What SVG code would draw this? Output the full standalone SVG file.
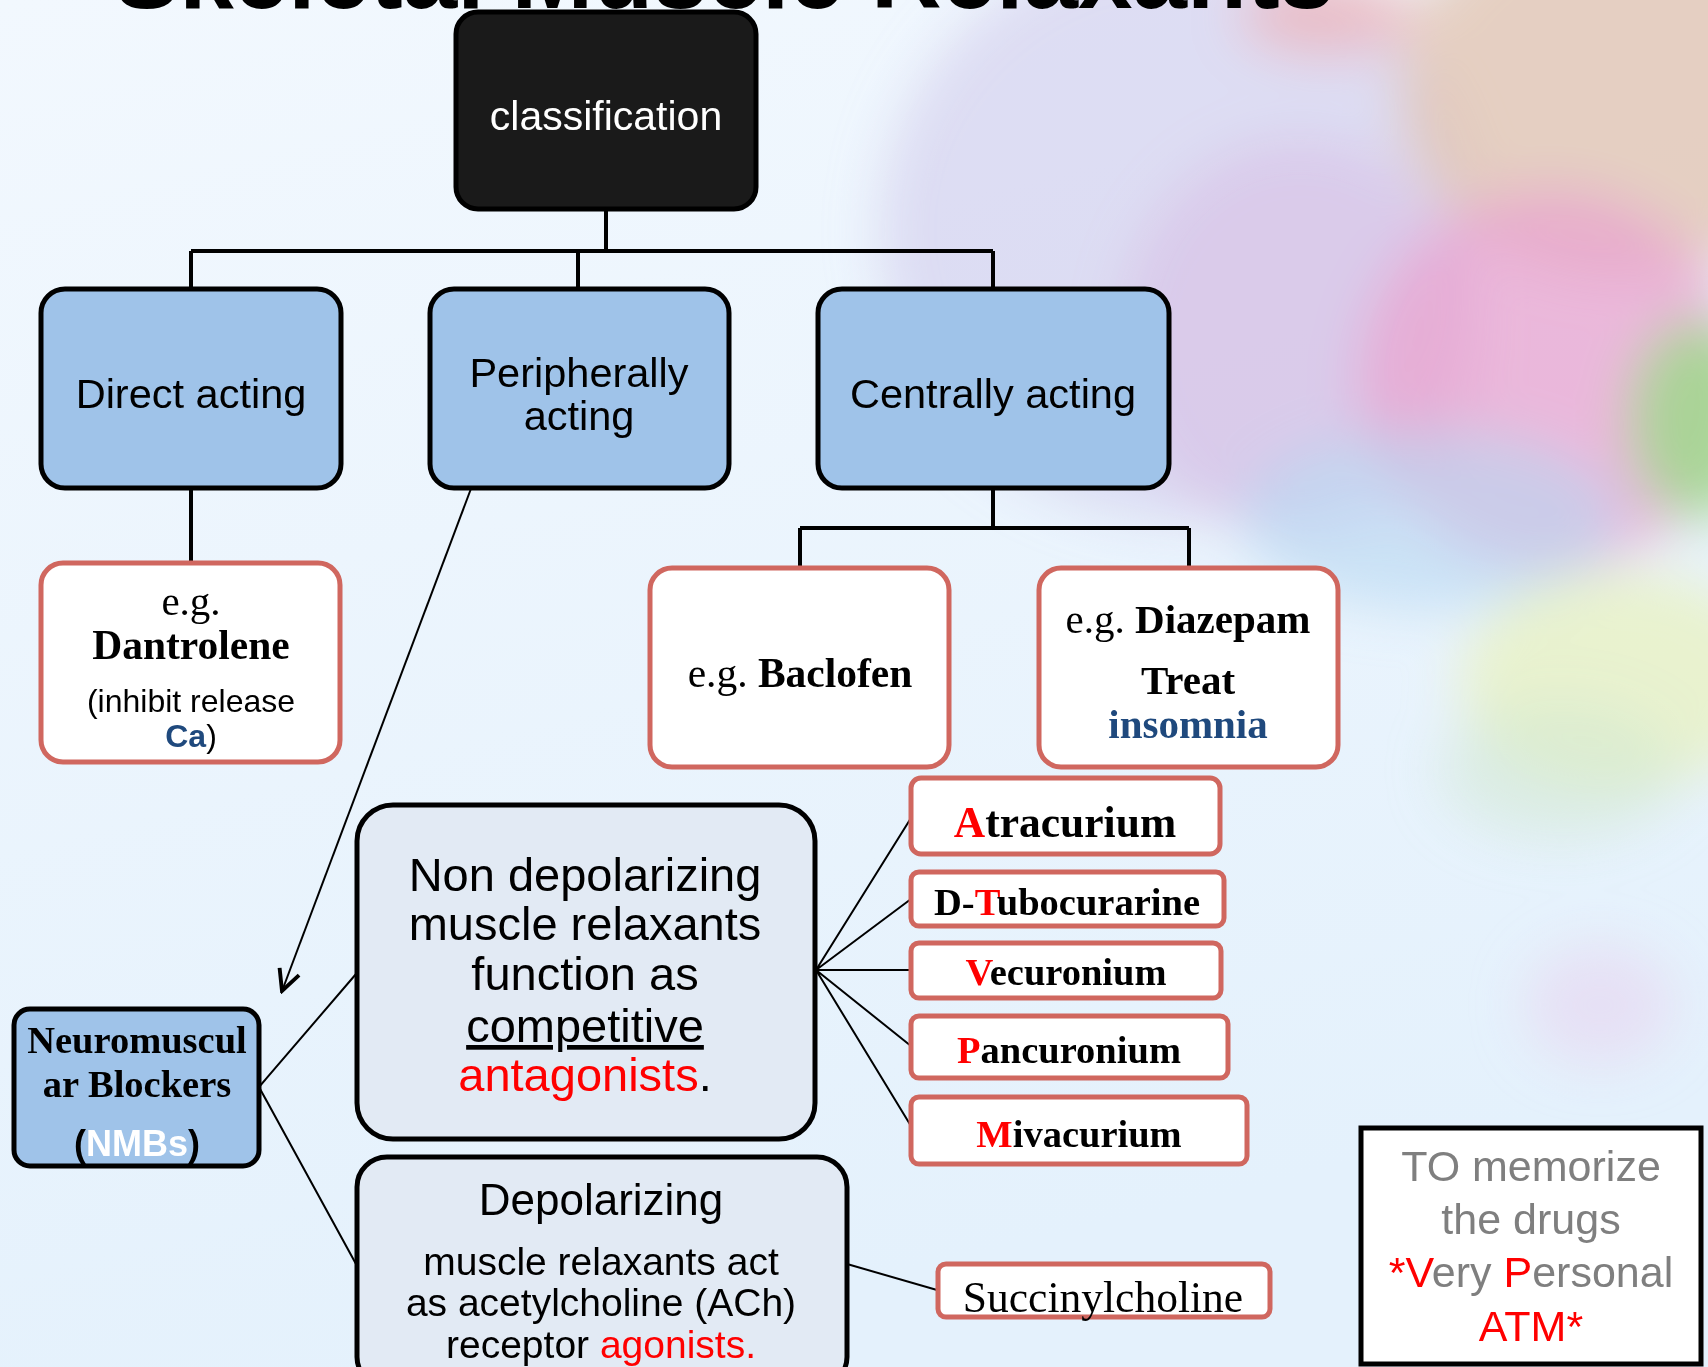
<svg xmlns="http://www.w3.org/2000/svg" width="1708" height="1367" viewBox="0 0 1708 1367">
<defs>
<linearGradient id="bg" x1="0" y1="0" x2="0.3" y2="1">
<stop offset="0" stop-color="#f2f8fe"/>
<stop offset="1" stop-color="#e4f1fc"/>
</linearGradient>
<filter id="blur" x="-50%" y="-50%" width="200%" height="200%"><feGaussianBlur stdDeviation="26"/></filter>
<marker id="arr" viewBox="0 0 20 20" refX="18" refY="10" markerWidth="26" markerHeight="26" markerUnits="userSpaceOnUse" orient="auto">
<path d="M2,2 L18,10 L2,18" fill="none" stroke="#000" stroke-width="3"/>
</marker>
<style>
.blue{fill:#9fc3e9;stroke:#000;stroke-width:5}
.dark{fill:#1a1a1a;stroke:#000;stroke-width:5}
.red{fill:#fff;stroke:#d0675f;stroke-width:5}
.light{fill:#e2eaf4;stroke:#000;stroke-width:5}
.memo{fill:#fff;stroke:#000;stroke-width:5}
.conn{fill:none;stroke:#000;stroke-width:4}
.thin{fill:none;stroke:#000;stroke-width:2}
.sans{font-family:"Liberation Sans",Arial,sans-serif}
.serif{font-family:"Liberation Serif","Times New Roman",serif}
.b{font-weight:bold}
.c{text-anchor:middle}
.r{fill:#ff0000}
.nv{fill:#1f497d}
</style>
</defs>
<rect width="1708" height="1367" fill="url(#bg)"/>
<g id="background-blobs" filter="url(#blur)">
<ellipse cx="1180" cy="230" rx="300" ry="290" fill="#cbc4ea" opacity="0.5"/>
<ellipse cx="1300" cy="340" rx="180" ry="200" fill="#d8b9e2" opacity="0.5"/>
<ellipse cx="1620" cy="90" rx="220" ry="190" fill="#e2c2ae" opacity="0.75"/>
<ellipse cx="1330" cy="15" rx="90" ry="40" fill="#f0a8a8" opacity="0.6"/>
<ellipse cx="1550" cy="380" rx="190" ry="190" fill="#e9a3cf" opacity="0.75"/>
<ellipse cx="1700" cy="420" rx="70" ry="100" fill="#a0d88c" opacity="0.85"/>
<ellipse cx="1430" cy="520" rx="190" ry="90" fill="#b6d7f2" opacity="0.6"/>
<ellipse cx="1620" cy="680" rx="160" ry="110" fill="#eaf2b0" opacity="0.6"/>
<ellipse cx="1560" cy="770" rx="120" ry="70" fill="#cfe8d0" opacity="0.5"/>
<ellipse cx="1600" cy="1005" rx="75" ry="60" fill="#e7d6f0" opacity="0.6"/>
</g>
<text class="sans b c" x="724" y="8" font-size="98" fill="#000">Skeletal Muscle Relaxants</text>
<g id="connectors">
<path class="conn" d="M606,209 V251 M191,251 H993 M191,251 V289 M578,251 V289 M993,251 V289"/>
<path class="conn" d="M191,488 V563"/>
<path class="conn" d="M993,488 V528 M800,528 H1189 M800,528 V568 M1189,528 V568"/>
<line class="thin" x1="472" y1="486" x2="282" y2="991" marker-end="url(#arr)"/>
<path class="thin" d="M259,1087 L356,974 M259,1087 L356,1264"/>
<path class="thin" d="M816,970 L911,818 M816,970 L911,899 M816,970 L911,970 M816,970 L911,1046 M816,970 L911,1126"/>
<path class="thin" d="M847,1264 L937,1290"/>
</g>
<g id="classification">
<rect class="dark" x="456" y="12" width="300" height="197" rx="22"/>
<text class="sans c" x="606" y="130" font-size="41" fill="#fff">classification</text>
</g>
<g id="direct-acting">
<rect class="blue" x="41" y="289" width="300" height="199" rx="24"/>
<text class="sans c" x="191" y="408" font-size="41.5">Direct acting</text>
</g>
<g id="peripherally-acting">
<rect class="blue" x="430" y="289" width="299" height="199" rx="24"/>
<text class="sans c" x="579" y="387" font-size="41.5">Peripherally</text>
<text class="sans c" x="579" y="430" font-size="41.5">acting</text>
</g>
<g id="centrally-acting">
<rect class="blue" x="818" y="289" width="351" height="199" rx="24"/>
<text class="sans c" x="993" y="408" font-size="41.5">Centrally acting</text>
</g>
<g id="dantrolene">
<rect class="red" x="41" y="563" width="299" height="199" rx="22"/>
<text class="serif c" x="191" y="615" font-size="41">e.g.</text>
<text class="serif b c" x="191" y="659" font-size="41.5">Dantrolene</text>
<text class="sans c" x="191" y="712" font-size="32">(inhibit release</text>
<text class="sans c" x="191" y="747" font-size="32"><tspan class="b nv">Ca</tspan>)</text>
</g>
<g id="baclofen">
<rect class="red" x="650" y="568" width="299" height="199" rx="22"/>
<text class="serif c" x="800" y="687" font-size="41.5">e.g. <tspan class="b">Baclofen</tspan></text>
</g>
<g id="diazepam">
<rect class="red" x="1039" y="568" width="299" height="199" rx="22"/>
<text class="serif c" x="1188" y="633" font-size="41">e.g. <tspan class="b">Diazepam</tspan></text>
<text class="serif b c" x="1188" y="694" font-size="41">Treat</text>
<text class="serif b c nv" x="1188" y="738" font-size="41">insomnia</text>
</g>
<g id="nmb">
<rect class="blue" x="14" y="1009" width="245" height="157" rx="16"/>
<text class="serif b c" x="137" y="1053" font-size="38.5">Neuromuscul</text>
<text class="serif b c" x="137" y="1097" font-size="38.5">ar Blockers</text>
<text class="sans b c" x="137" y="1156" font-size="36">(<tspan fill="#fff">NMBs</tspan>)</text>
</g>
<g id="non-depolarizing">
<rect class="light" x="357" y="805" width="458" height="334" rx="36"/>
<text class="sans c" x="585" y="891" font-size="47">Non depolarizing</text>
<text class="sans c" x="585" y="940" font-size="47">muscle relaxants</text>
<text class="sans c" x="585" y="990" font-size="47">function as</text>
<text class="sans c" x="585" y="1042" font-size="47" text-decoration="underline">competitive</text>
<text class="sans c" x="585" y="1091" font-size="47"><tspan class="r">antagonists</tspan>.</text>
</g>
<g id="depolarizing">
<rect class="light" x="357" y="1157" width="490" height="230" rx="30"/>
<text class="sans c" x="601" y="1215" font-size="44">Depolarizing</text>
<text class="sans c" x="601" y="1275" font-size="39">muscle relaxants act</text>
<text class="sans c" x="601" y="1316" font-size="39">as acetylcholine (ACh)</text>
<text class="sans c" x="601" y="1358" font-size="39">receptor <tspan class="r">agonists.</tspan></text>
</g>
<g id="atracurium">
<rect class="red" x="911" y="778" width="309" height="76" rx="10"/>
<text class="serif b c" x="1065" y="837" font-size="43.5"><tspan class="r">A</tspan>tracurium</text>
</g>
<g id="d-tubocurarine">
<rect class="red" x="911" y="872" width="313" height="54" rx="8"/>
<text class="serif b c" x="1067" y="915" font-size="38.5">D-<tspan class="r">T</tspan>ubocurarine</text>
</g>
<g id="vecuronium">
<rect class="red" x="911" y="943" width="310" height="55" rx="8"/>
<text class="serif b c" x="1066" y="985" font-size="38.5"><tspan class="r">V</tspan>ecuronium</text>
</g>
<g id="pancuronium">
<rect class="red" x="911" y="1016" width="317" height="62" rx="8"/>
<text class="serif b c" x="1069" y="1063" font-size="38.5"><tspan class="r">P</tspan>ancuronium</text>
</g>
<g id="mivacurium">
<rect class="red" x="911" y="1097" width="336" height="67" rx="8"/>
<text class="serif b c" x="1079" y="1147" font-size="38.5"><tspan class="r">M</tspan>ivacurium</text>
</g>
<g id="succinylcholine">
<rect class="red" x="938" y="1264" width="332" height="53" rx="8"/>
<text class="serif c" x="1103" y="1312" font-size="43.5">Succinylcholine</text>
</g>
<g id="memo">
<rect class="memo" x="1361" y="1128" width="340" height="236"/>
<text class="sans c" x="1531" y="1181" font-size="43" fill="#7f7f7f">TO memorize</text>
<text class="sans c" x="1531" y="1234" font-size="43" fill="#7f7f7f">the drugs</text>
<text class="sans c" x="1531" y="1287" font-size="43" fill="#7f7f7f"><tspan class="r">*V</tspan>ery <tspan class="r">P</tspan>ersonal</text>
<text class="sans c r" x="1531" y="1341" font-size="43">ATM*</text>
</g>
</svg>
